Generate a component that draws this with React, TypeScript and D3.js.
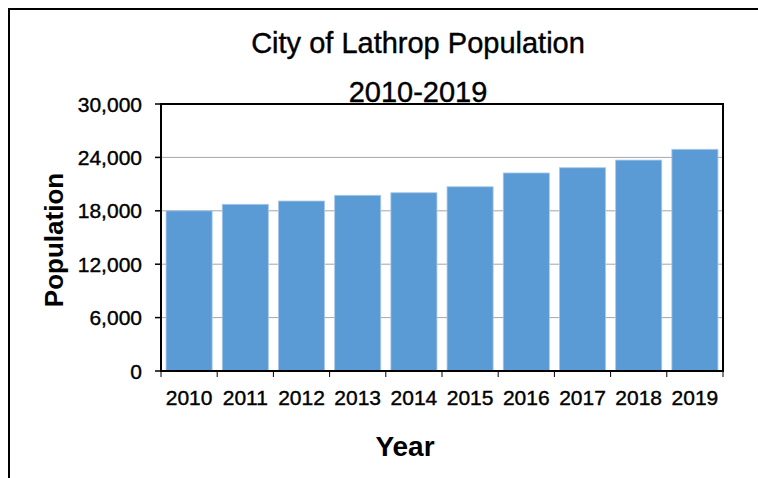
import React from "react";
import * as d3 from "d3";

const years = ["2010", "2011", "2012", "2013", "2014", "2015", "2016", "2017", "2018", "2019"];
const population = [18000, 18730, 19100, 19740, 20030, 20700, 22250, 22840, 23700, 24910];
const yTicks = [0, 6000, 12000, 18000, 24000, 30000];
const titleLines = ["City of Lathrop Population", "2010-2019"];

const W = 758;
const H = 478;
const plot = { left: 161, right: 723, top: 104, bottom: 371 };
const font = "Liberation Sans, Arial, sans-serif";

export default function App() {
  const x = d3
    .scaleBand<string>()
    .domain(years)
    .range([plot.left, plot.right])
    .paddingInner(0.18)
    .paddingOuter(0.09);
  const y = d3.scaleLinear().domain([0, 30000]).range([plot.bottom, plot.top]);
  const fmt = d3.format(",");
  const boundaries = d3.range(years.length + 1).map((i) => plot.left + i * (plot.right - plot.left) / years.length);
  const heavy = { stroke: "#000", strokeWidth: 0.4 };

  return (
    <svg width={W} height={H} style={{ position: "absolute", left: 0, top: 0, background: "#fff" }} fontFamily={font}>
      <rect x={0} y={0} width={W} height={H} fill="#fff" />
      <rect x={9} y={9} width={W + 20} height={H + 20} fill="none" stroke="#000" strokeWidth={2} />
      <text x={418} y={53} textAnchor="middle" fontSize={29} fill="#000" {...heavy}>{titleLines[0]}</text>
      <text x={418} y={102} textAnchor="middle" fontSize={29} fill="#000" {...heavy}>{titleLines[1]}</text>
      {yTicks.filter((t) => t > 0 && t < 30000).map((t) => (
        <line key={"g" + t} x1={plot.left} x2={plot.right} y1={y(t)} y2={y(t)} stroke="#a6a6a6" strokeWidth={1} />
      ))}
      {years.map((yr, i) => (
        <rect
          key={yr}
          x={x(yr)}
          y={y(population[i])}
          width={x.bandwidth()}
          height={plot.bottom - y(population[i])}
          fill="#5B9BD5"
          stroke="#a9c9ea"
          strokeWidth={0.8}
        />
      ))}
      <rect x={plot.left} y={plot.top} width={plot.right - plot.left} height={plot.bottom - plot.top} fill="none" stroke="#000" strokeWidth={2} />
      {yTicks.map((t) => (
        <g key={"t" + t}>
          <line x1={plot.left - 6} x2={plot.left} y1={y(t)} y2={y(t)} stroke="#000" strokeWidth={1.5} />
          <text x={142} y={y(t)} dy="0.36em" textAnchor="end" fontSize={21} fill="#000" {...heavy}>{fmt(t)}</text>
        </g>
      ))}
      {boundaries.map((bx, i) => (
        <line key={"xt" + i} x1={bx} x2={bx} y1={plot.bottom} y2={plot.bottom + 6} stroke="#000" strokeWidth={1} />
      ))}
      {years.map((yr) => (
        <text key={"xl" + yr} x={(x(yr) as number) + x.bandwidth() / 2} y={405} textAnchor="middle" fontSize={21} fill="#000" {...heavy}>{yr}</text>
      ))}
      <text x={405} y={456} textAnchor="middle" fontSize={28} fontWeight="bold" fill="#000">Year</text>
      <text transform={`translate(63,240) rotate(-90)`} textAnchor="middle" fontSize={26} fontWeight="bold" fill="#000">Population</text>
    </svg>
  );
}
